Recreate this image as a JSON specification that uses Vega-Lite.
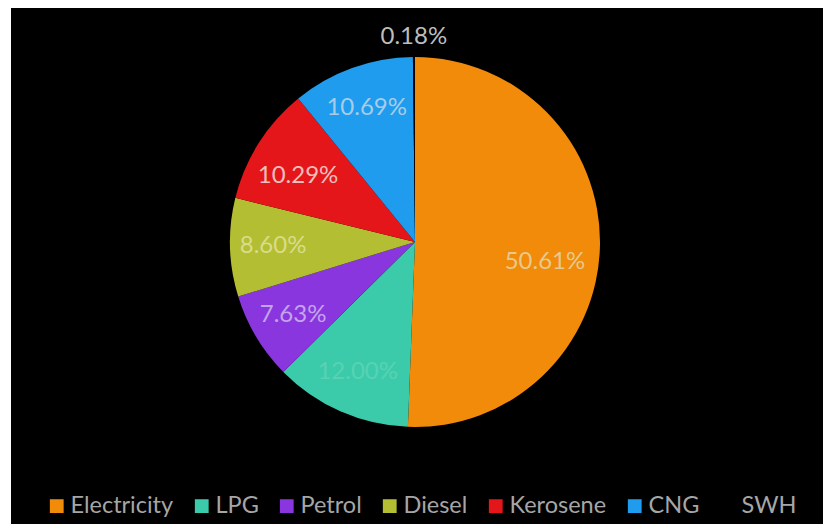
{
  "$schema": "https://vega.github.io/schema/vega-lite/v6.json",
  "width": 812,
  "height": 516,
  "padding": {"left": 11, "top": 8, "right": 0, "bottom": 0},
  "autosize": "none",
  "background": "white",
  "view": {"fill": "black", "stroke": null},
  "data": {"values": [
    {"source": "Electricity", "share": 50.61, "label": "50.61%"},
    {"source": "LPG", "share": 12.0, "label": "12.00%"},
    {"source": "Petrol", "share": 7.63, "label": "7.63%"},
    {"source": "Diesel", "share": 8.6, "label": "8.60%"},
    {"source": "Kerosene", "share": 10.29, "label": "10.29%"},
    {"source": "CNG", "share": 10.69, "label": "10.69%"},
    {"source": "SWH", "share": 0.18, "label": "0.18%"}
  ]},
  "transform": [
    {"window": [{"op": "row_number", "as": "order"}]}
  ],
  "encoding": {
    "theta": {"field": "share", "type": "quantitative", "stack": true},
    "order": {"field": "order", "type": "quantitative"},
    "detail": {"field": "source", "type": "nominal"}
  },
  "layer": [
    {
      "mark": {"type": "arc", "outerRadius": 185, "xOffset": -2, "yOffset": -24},
      "encoding": {
        "color": {
          "field": "source",
          "type": "nominal",
          "sort": ["Electricity", "LPG", "Petrol", "Diesel", "Kerosene", "CNG", "SWH"],
          "scale": {
            "domain": ["Electricity", "LPG", "Petrol", "Diesel", "Kerosene", "CNG", "SWH"],
            "range": ["#F28A0A", "#3CCBAA", "#8A36DE", "#B4BE32", "#E5161A", "#1F9CEE", "#000000"]
          },
          "legend": {
            "orient": "none",
            "legendX": 34,
            "legendY": 486,
            "direction": "horizontal",
            "columns": 7,
            "title": null,
            "symbolType": "square",
            "symbolSize": 190,
            "symbolStrokeWidth": 0,
            "labelFont": "Lato",
            "labelFontSize": 23.5,
            "labelColor": "#A6A6A6",
            "labelLimit": 140,
            "labelOffset": 2,
            "columnPadding": 16
          }
        }
      }
    },
    {
      "mark": {"type": "text", "radius": 142, "font": "Lato", "fontSize": 24, "xOffset": -2, "yOffset": -24},
      "encoding": {
        "text": {"field": "label"},
        "opacity": {
          "condition": {"test": "datum.source === 'Electricity' || datum.source === 'SWH' || datum.source === 'Kerosene'", "value": 0},
          "value": 1
        },
        "color": {
          "field": "source",
          "type": "nominal",
          "legend": null,
          "scale": {
            "domain": ["Electricity", "LPG", "Petrol", "Diesel", "Kerosene", "CNG", "SWH"],
            "range": ["#E6C98C", "#58D2B4", "#C3A4EE", "#D9DC8A", "#F0BDBD", "#A9CBE8", "#BDBDBD"]
          }
        }
      }
    },
    {
      "mark": {"type": "text", "radius": 142, "font": "Lato", "fontSize": 24, "color": "#F0BDBD", "xOffset": 1, "yOffset": -14},
      "encoding": {
        "text": {"field": "label"},
        "opacity": {
          "condition": {"test": "datum.source === 'Kerosene'", "value": 1},
          "value": 0
        }
      }
    },
    {
      "mark": {"type": "text", "radius": 130, "font": "Lato", "fontSize": 24, "color": "#E6C98C", "xOffset": -2, "yOffset": -6},
      "encoding": {
        "text": {"field": "label"},
        "opacity": {
          "condition": {"test": "datum.source === 'Electricity'", "value": 1},
          "value": 0
        }
      }
    },
    {
      "mark": {"type": "text", "radius": 205, "font": "Lato", "fontSize": 24, "color": "#BDBDBD", "xOffset": -2, "yOffset": -24},
      "encoding": {
        "text": {"field": "label"},
        "opacity": {
          "condition": {"test": "datum.source === 'SWH'", "value": 1},
          "value": 0
        }
      }
    }
  ],
  "resolve": {"scale": {"color": "independent"}}
}
